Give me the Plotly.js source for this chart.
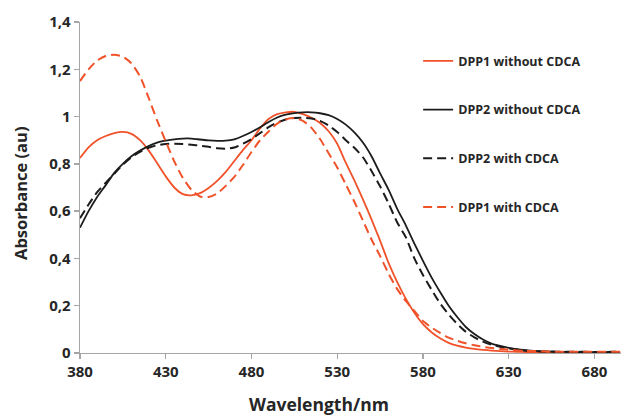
<!DOCTYPE html>
<html>
<head>
<meta charset="utf-8">
<script src="https://cdn.plot.ly/plotly-3.0.1.min.js"></script>
<style>html,body{margin:0;padding:0;background:#fff;}#chart{width:621px;height:417px;}</style>
</head>
<body>
<div id="chart"></div>
<script>
// Wavelength grid (nm)
const wavelength = [380,385,390,395,400,405,410,415,420,425,430,435,440,445,450,455,460,465,470,475,480,485,490,495,500,505,510,515,520,525,530,535,540,545,550,555,560,565,570,575,580,585,590,595,600,605,610,615,620,625,630,635,640,645,650,655,660,665,670,675,680,685,690,695];

const dpp1Without = [0.825,0.870,0.900,0.918,0.930,0.935,0.927,0.900,0.857,0.803,0.747,0.700,0.672,0.667,0.676,0.698,0.728,0.766,0.812,0.858,0.900,0.950,0.990,1.010,1.018,1.020,1.010,0.995,0.973,0.938,0.885,0.805,0.730,0.650,0.565,0.475,0.380,0.300,0.230,0.170,0.122,0.088,0.062,0.043,0.031,0.023,0.017,0.013,0.010,0.008,0.006,0.005,0.004,0.004,0.004,0.003,0.003,0.003,0.003,0.003,0.003,0.003,0.003,0.003];

const dpp2Without = [0.530,0.600,0.660,0.710,0.762,0.800,0.832,0.856,0.875,0.890,0.898,0.904,0.907,0.907,0.903,0.899,0.897,0.898,0.904,0.918,0.935,0.955,0.977,0.996,1.008,1.015,1.018,1.018,1.014,1.006,0.990,0.966,0.933,0.890,0.832,0.760,0.690,0.610,0.540,0.463,0.390,0.320,0.258,0.200,0.152,0.110,0.080,0.057,0.040,0.030,0.022,0.016,0.012,0.009,0.007,0.006,0.005,0.005,0.004,0.004,0.004,0.004,0.004,0.004];

const dpp2With = [0.570,0.628,0.680,0.720,0.758,0.797,0.828,0.851,0.868,0.879,0.884,0.885,0.884,0.881,0.877,0.872,0.866,0.864,0.869,0.885,0.905,0.930,0.955,0.975,0.988,0.994,0.995,0.992,0.982,0.962,0.935,0.900,0.868,0.828,0.770,0.705,0.632,0.552,0.490,0.400,0.330,0.268,0.210,0.163,0.123,0.090,0.066,0.048,0.035,0.026,0.019,0.014,0.010,0.008,0.006,0.006,0.005,0.005,0.005,0.005,0.004,0.004,0.005,0.005];

const dpp1With = [1.150,1.200,1.237,1.256,1.262,1.253,1.225,1.170,1.080,0.983,0.895,0.810,0.740,0.690,0.662,0.660,0.675,0.707,0.745,0.795,0.850,0.900,0.937,0.970,0.988,0.994,0.982,0.952,0.905,0.845,0.785,0.713,0.640,0.560,0.480,0.410,0.335,0.270,0.220,0.178,0.135,0.108,0.085,0.065,0.052,0.041,0.033,0.026,0.021,0.017,0.014,0.011,0.009,0.008,0.007,0.006,0.005,0.005,0.005,0.005,0.005,0.005,0.005,0.005];

const seriesNames = ["DPP1 without CDCA","DPP2 without CDCA","DPP2 with CDCA","DPP1 with CDCA"];
const xTickVals = [380,430,480,530,580,630,680];
const yTickVals = [0,0.2,0.4,0.6,0.8,1,1.2,1.4];
const yTickText = ["0","0,2","0,4","0,6","0,8","1","1,2","1,4"];

const ORANGE = "#F0522A";
const BLACK = "#1c1c1c";
const DASH = "9px,5px";
const FONT = "Open Sans";

const mk = (y, name, color, dash, width, g) => ({
  x: wavelength, y: y, name: name, type: "scatter", mode: "lines",
  line: {color: color, width: width, dash: dash, shape: "spline", smoothing: 0.6},
  legendgroup: g, hoverinfo: "skip"
});

const data = [
  mk(dpp1Without, seriesNames[0], ORANGE, "solid", 1.8, "a"),
  mk(dpp2Without, seriesNames[1], BLACK, "solid", 1.8, "b"),
  mk(dpp2With, seriesNames[2], BLACK, DASH, 2, "c"),
  mk(dpp1With, seriesNames[3], ORANGE, DASH, 2, "d")
];

const axisCommon = {
  showline: true, linecolor: "#a6a6a6", linewidth: 1.3,
  ticks: "outside", ticklen: 5, tickcolor: "#a6a6a6", tickwidth: 1.3,
  showgrid: false, zeroline: false,
  tickfont: {family: FONT, size: 15, color: "#262626", weight: "bold"}
};

const layout = {
  width: 621, height: 417,
  margin: {l: 80, r: 0, t: 22, b: 64},
  paper_bgcolor: "#ffffff", plot_bgcolor: "#ffffff",
  font: {family: FONT},
  xaxis: Object.assign({}, axisCommon, {range: [380, 695.5], tickmode: "array", tickvals: xTickVals}),
  yaxis: Object.assign({}, axisCommon, {range: [0, 1.4], tickmode: "array", tickvals: yTickVals, ticktext: yTickText}),
  showlegend: true,
  legend: {
    x: 0.625, xanchor: "left", y: 0.927, yanchor: "top",
    bgcolor: "rgba(0,0,0,0)", traceorder: "grouped", tracegroupgap: 29.5,
    font: {family: FONT, size: 12.5, color: "#262626", weight: "bold"}
  },
  annotations: [
    {text: "Wavelength/nm", xref: "paper", yref: "paper", x: (319-80)/541, y: 0, yshift: -51,
     xanchor: "center", yanchor: "middle", showarrow: false,
     font: {family: FONT, size: 17.5, color: "#262626", weight: "bold"}},
    {text: "Absorbance (au)", xref: "paper", yref: "paper", x: 0, xshift: -60, y: (353-193)/331,
     textangle: -90, xanchor: "center", yanchor: "middle", showarrow: false,
     font: {family: FONT, size: 16.5, color: "#262626", weight: "bold"}}
  ]
};

Plotly.newPlot("chart", data, layout, {displayModeBar: false, staticPlot: true});
</script>
</body>
</html>
